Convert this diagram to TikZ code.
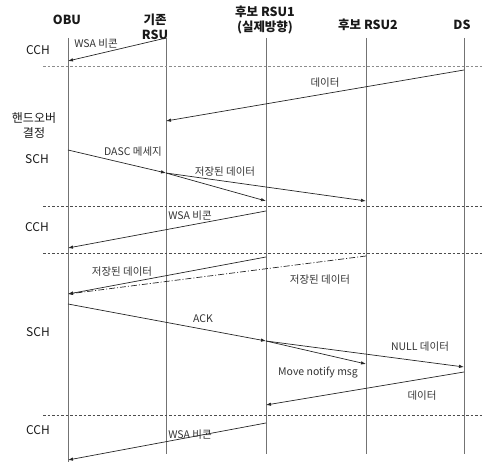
\documentclass[tikz,border=0pt]{standalone}
\usepackage{fontspec}
\setmainfont{Noto Sans CJK KR}
\usetikzlibrary{arrows.meta}
\begin{document}
\begin{tikzpicture}[x=1pt,y=-1pt,
 life/.style={draw=black!55, line width=0.9pt},
 msg/.style={draw=black!85, line width=0.7pt, -{Latex[length=5pt,width=3.5pt]}},
 sep/.style={draw=black!70, dash pattern=on 2.5pt off 2pt, line width=0.6pt},
 hdr/.style={font=\bfseries\fontsize{12.5}{15}\selectfont, text=black!90, inner sep=0pt, align=center},
 ch/.style={font=\fontsize{12}{15}\selectfont, text=black!90, inner sep=0pt, align=center},
 lbl/.style={font=\fontsize{10.5}{12}\selectfont, text=black!80, inner sep=0pt}]
\useasboundingbox (0,0) rectangle (483,465);
% headers
\node[hdr] (hobu) at (67,20) {OBU};
\node[hdr] (hrsu) at (155,27) {기존\\RSU};
\node[hdr] (hr1) at (265,20) {후보 RSU1\\(실제방향)};
\node[hdr] (hr2) at (368,25) {후보 RSU2};
\node[hdr] (hds) at (462,25) {DS};
% lifelines
\coordinate (obuT) at (68,38);  \coordinate (obuB) at (68,454);
\coordinate (rsuT) at (166,38); \coordinate (rsuB) at (166,454);
\coordinate (r1T) at (266,38);  \coordinate (r1B) at (266,454);
\coordinate (r2T) at (366,38);  \coordinate (r2B) at (366,454);
\coordinate (dsT) at (464,38);  \coordinate (dsB) at (464,454);
\draw[life] (obuT) -- (68,462);
\draw[life] (rsuT) -- (rsuB);
\draw[life] (r1T) -- (r1B);
\draw[life] (r2T) -- (r2B);
\draw[life] (dsT) -- (dsB);
% separators
\coordinate (s1a) at (43,66);  \coordinate (s1b) at (483,66);
\coordinate (s2a) at (43,206); \coordinate (s2b) at (483,206);
\coordinate (s3a) at (43,253); \coordinate (s3b) at (483,253);
\coordinate (s4a) at (43,415); \coordinate (s4b) at (483,415);
\draw[sep, draw=black!45] (s1a) -- (s1b);
\draw[sep] (s2a) -- (s2b);
\draw[sep] (s3a) -- (s3b);
\draw[sep] (s4a) -- (s4b);
% channel labels
\node[ch] (c1) at (38,50) {CCH};
\node[ch] (ho) at (34,126) {핸드오버\\결정};
\node[ch] (c2) at (37,159) {SCH};
\node[ch] (c3) at (37,227) {CCH};
\node[ch] (c4) at (38,332) {SCH};
\node[ch] (c5) at (38,430) {CCH};
% messages
\coordinate (m1a) at (166,38);  \coordinate (m1b) at (68,61);
\draw[msg] (m1a) -- (m1b);
\node[lbl] (l1) at (96,44) {WSA 비콘};
\coordinate (m2a) at (464,70);  \coordinate (m2b) at (166,121);
\draw[msg] (m2a) -- (m2b);
\node[lbl] (l2) at (325,83) {데이터};
\coordinate (m3a) at (68,150);  \coordinate (m3b) at (166,173);
\draw[msg] (m3a) -- (m3b);
\node[lbl] (l3) at (133,152) {DASC 메세지};
\coordinate (m4b) at (266,201); \coordinate (m4c) at (366,201);
\draw[msg] (m3b) -- (m4b);
\draw[msg] (m3b) -- (m4c);
\node[lbl] (l4) at (225,172) {저장된 데이터};
\coordinate (m5a) at (266,211); \coordinate (m5b) at (68,248);
\draw[msg] (m5a) -- (m5b);
\node[lbl] (l5) at (190,216) {WSA 비콘};
\coordinate (m6a) at (266,257); \coordinate (m6b) at (68,294);
\coordinate (m7a) at (366,256);
\draw[msg] (m6a) -- (m6b);
\draw[msg, dash pattern=on 6pt off 2pt on 1pt off 2pt] (m7a) -- (m6b);
\node[lbl] (l6) at (122,272) {저장된 데이터};
\node[lbl] (l7) at (320,280) {저장된 데이터};
\coordinate (m8a) at (68,304);  \coordinate (m8b) at (266,341);
\draw[msg] (m8a) -- (m8b);
\node[lbl] (l8) at (203,319) {ACK};
\coordinate (m9b) at (366,364); \coordinate (m9c) at (464,367);
\draw[msg] (m8b) -- (m9b);
\draw[msg] (m8b) -- (m9c);
\node[lbl] (l9) at (420,347) {NULL 데이터};
\node[lbl] (l10) at (318,373) {Move notify msg};
\coordinate (m11a) at (464,372); \coordinate (m11b) at (266,405);
\draw[msg] (m11a) -- (m11b);
\node[lbl] (l11) at (422,396) {데이터};
\coordinate (m12a) at (266,423); \coordinate (m12b) at (68,460);
\draw[msg] (m12a) -- (m12b);
\node[lbl] (l12) at (190,435) {WSA 비콘};
\end{tikzpicture}
\end{document}
